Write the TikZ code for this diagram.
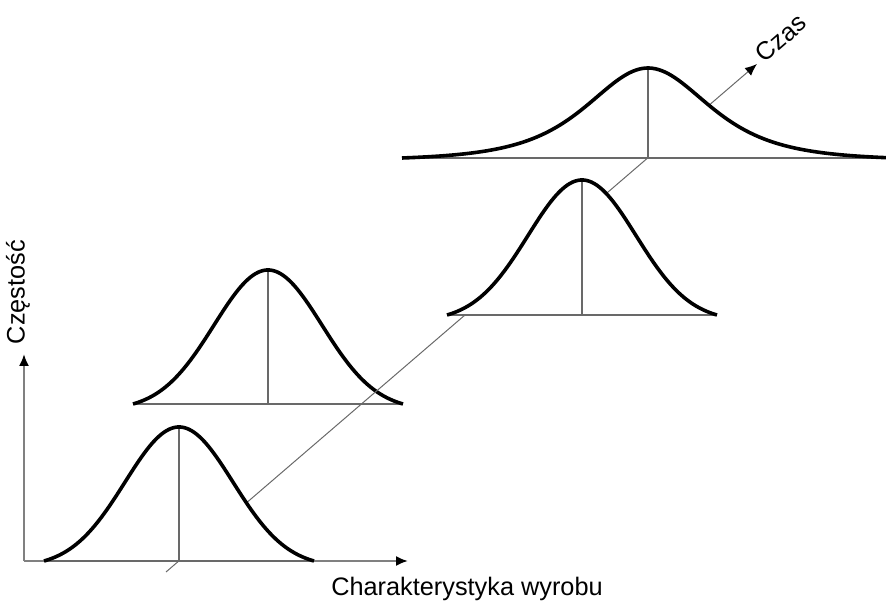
\documentclass[tikz,border=0pt]{standalone}
\usepackage{fontspec}
\setmainfont{Liberation Sans}
\usetikzlibrary{arrows.meta}

\tikzset{
  krzywa/.style={line width=3.6pt, black, line join=round},
  podstawa/.style={line width=2pt, liniaszara},
  srodek/.style={line width=1.5pt, liniaszara},
  os/.style={line width=2pt, osszara, ->},
}

\begin{document}
\begin{tikzpicture}[x=1pt, y=1pt, >={Latex[length=12pt, width=10pt, color=black]},
    font=\fontsize{25.3}{30}\selectfont,
    declare function={dzwon(\t)=(exp(-((\t/54)^2)/2)-0.0439)/0.9561;
                      ogon(\t)=(1/(1+(\t/112.6)^2)^2-0.03)/0.97;}]
    \definecolor{liniaszara}{RGB}{105,105,105}
    \definecolor{osszara}{RGB}{128,128,128}
    \useasboundingbox (0,0) rectangle (886,601);

    % druga krzywa (pod osią czasu)
    \fill[white] plot[domain=-135:135, samples=100] ({268+\x}, {197+134*dzwon(\x)}) -- cycle;
    \draw[podstawa] (133,197) -- (403,197);
    \draw[srodek] (268,197) -- (268,331);
    \draw[krzywa] plot[domain=-135:135, samples=100] ({268+\x}, {197+134*dzwon(\x)});

    % oś czasu
    \coordinate (t0) at (166,29);
    \coordinate (t1) at (757,537);
    \draw[->, line width=1pt, liniaszara] (t0) -- (t1);
    \node[rotate=41] (czas) at (781,563) {Czas};

    % pierwsza krzywa
    \fill[white] plot[domain=-135:135, samples=100] ({179+\x}, {40+134*dzwon(\x)}) -- cycle;

    % osie
    \coordinate (o) at (24,40);
    \draw[os] (o) -- (24,247);
    \draw[os] (o) -- (408,40);
    \node[rotate=90] (czestosc) at (18,309) {Częstość};
    \node[anchor=base] (cecha) at (467,5) {Charakterystyka wyrobu};

    \draw[podstawa] (44,40) -- (314,40);
    \draw[srodek] (179,40) -- (179,174);
    \draw[krzywa] plot[domain=-135:135, samples=100] ({179+\x}, {40+134*dzwon(\x)});

    % trzecia krzywa
    \fill[white] plot[domain=-135:135, samples=100] ({582+\x}, {286+135*dzwon(\x)}) -- cycle;
    \draw[podstawa] (447,286) -- (717,286);
    \draw[srodek] (582,286) -- (582,421);
    \draw[krzywa] plot[domain=-135:135, samples=100] ({582+\x}, {286+135*dzwon(\x)});

    % czwarta krzywa (szeroka)
    \fill[white] plot[domain=-246:238, samples=150] ({648+\x}, {443+90*ogon(\x)}) -- cycle;
    \draw[podstawa] (402,443) -- (886,443);
    \draw[srodek] (648,443) -- (648,533);
    \draw[krzywa] plot[domain=-246:238, samples=150] ({648+\x}, {443+90*ogon(\x)});
\end{tikzpicture}
\end{document}
